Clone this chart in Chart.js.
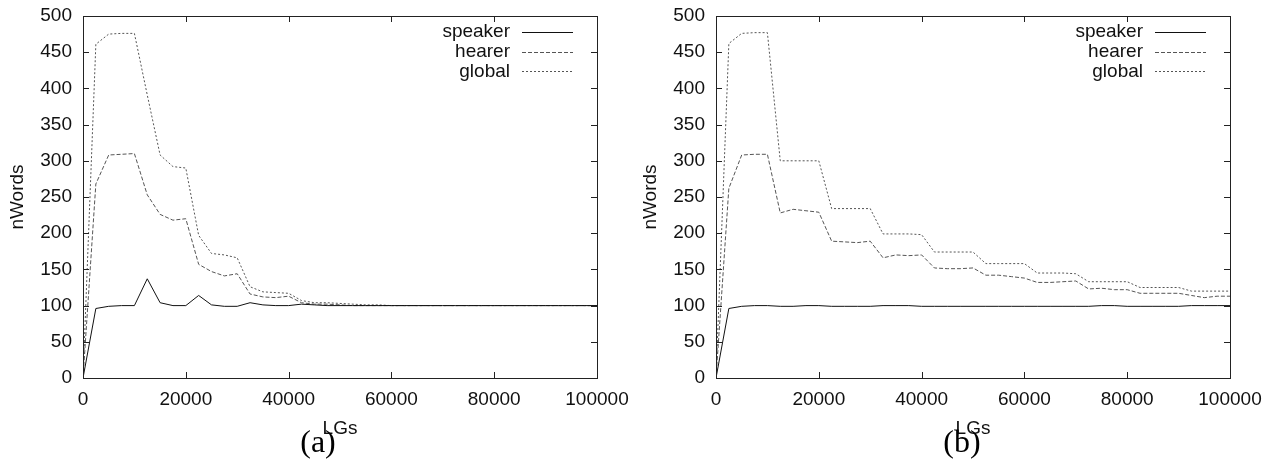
<!DOCTYPE html>
<html>
<head>
<meta charset="utf-8">
<script src="https://cdn.jsdelivr.net/npm/chart.js@4"></script>
<style>
  body { margin: 0; background: #fff; }
  #wrap { position: relative; width: 1274px; height: 472px; }
  canvas { position: absolute; top: 0; }
</style>
</head>
<body>
<div id="wrap">
  <canvas id="chart-a" width="637" height="472" style="left:0"></canvas>
  <canvas id="chart-b" width="637" height="472" style="left:633px"></canvas>
</div>
<script>
// eixo x (LGs), um ponto a cada 2500
const lgs = [0, 2500, 5000, 7500, 10000, 12500, 15000, 17500, 20000, 22500, 25000, 27500, 30000, 32500, 35000, 37500, 40000, 42500, 45000, 47500, 50000, 52500, 55000, 57500, 60000, 62500, 65000, 67500, 70000, 72500, 75000, 77500, 80000, 82500, 85000, 87500, 90000, 92500, 95000, 97500, 100000];

// (a)
const speakerA = [0, 96, 99, 100, 100, 137, 104, 100, 100, 114, 101, 99, 99, 104, 101, 100, 100, 102, 101, 100, 100, 100, 100, 100, 100, 100, 100, 100, 100, 100, 100, 100, 100, 100, 100, 100, 100, 100, 100, 100, 100];
const hearerA = [0, 268, 308, 309, 310, 253, 226, 218, 220, 157, 147, 141, 144, 116, 112, 111, 113, 104, 102, 102, 101, 100, 100, 100, 100, 100, 100, 100, 100, 100, 100, 100, 100, 100, 100, 100, 100, 100, 100, 100, 100];
const globalA = [0, 461, 475, 476, 476, 391, 308, 292, 290, 197, 172, 170, 166, 126, 119, 118, 117, 107, 104, 104, 103, 102, 101, 101, 100, 100, 100, 100, 100, 100, 100, 100, 100, 100, 100, 100, 100, 100, 100, 100, 100];

// (b)
const speakerB = [0, 96, 99, 100, 100, 99, 99, 100, 100, 99, 99, 99, 99, 100, 100, 100, 99, 99, 99, 99, 99, 99, 99, 99, 99, 99, 99, 99, 99, 99, 100, 100, 99, 99, 99, 99, 99, 100, 100, 100, 100];
const hearerB = [0, 262, 308, 309, 309, 228, 233, 231, 229, 189, 188, 187, 189, 166, 170, 169, 170, 152, 151, 151, 152, 142, 142, 140, 138, 132, 132, 133, 134, 123, 124, 122, 122, 117, 117, 117, 117, 114, 111, 113, 113];
const globalB = [0, 462, 476, 477, 477, 300, 300, 300, 300, 234, 234, 234, 234, 199, 199, 199, 198, 174, 174, 174, 174, 158, 158, 158, 158, 145, 145, 145, 144, 133, 133, 133, 133, 125, 125, 125, 125, 120, 120, 120, 120];

const FONT = "'Liberation Sans', Arial, sans-serif";

// caixa estilo gnuplot: borda, ticks pra dentro, legenda e legenda (a)/(b)
const gnuplotFrame = {
  id: "gnuplotFrame",
  afterDraw(chart, args, opts) {
    const { ctx, chartArea: a, scales } = chart;
    ctx.save();
    ctx.strokeStyle = "#222";
    ctx.lineWidth = 1;
    ctx.strokeRect(a.left + 0.5, a.top + 0.5, a.right - a.left, a.bottom - a.top);

    ctx.beginPath();
    scales.x.ticks.forEach((t) => {
      const px = Math.round(scales.x.getPixelForValue(t.value)) + 0.5;
      ctx.moveTo(px, a.bottom); ctx.lineTo(px, a.bottom - 6);
      ctx.moveTo(px, a.top); ctx.lineTo(px, a.top + 6);
    });
    scales.y.ticks.forEach((t) => {
      const py = Math.round(scales.y.getPixelForValue(t.value)) + 0.5;
      ctx.moveTo(a.left, py); ctx.lineTo(a.left + 6, py);
      ctx.moveTo(a.right, py); ctx.lineTo(a.right - 6, py);
    });
    ctx.stroke();

    // legenda
    ctx.font = `19px ${FONT}`;
    ctx.textAlign = "right";
    ctx.textBaseline = "middle";
    chart.data.datasets.forEach((ds, i) => {
      const y = a.top + 16 + i * 19.7;
      ctx.fillStyle = "#111";
      ctx.fillText(ds.label, a.right - 87, y);
      ctx.strokeStyle = ds.borderColor;
      ctx.setLineDash(ds.borderDash || []);
      ctx.beginPath();
      ctx.moveTo(a.right - 75, Math.round(y) + 0.5);
      ctx.lineTo(a.right - 24, Math.round(y) + 0.5);
      ctx.stroke();
    });
    ctx.setLineDash([]);

    // (a) / (b)
    ctx.font = `32px 'Liberation Serif', 'Times New Roman', serif`;
    ctx.textAlign = "center";
    ctx.textBaseline = "alphabetic";
    ctx.fillStyle = "#000";
    ctx.fillText(opts.caption, opts.captionX, 452);
    ctx.restore();
  },
};

const makeChart = (id, speaker, hearer, global, caption, captionX) => {
  const ctx = document.getElementById(id).getContext("2d");
  const pts = (vals) => lgs.map((x, i) => ({ x, y: vals[i] }));

  return new Chart(ctx, {
    type: "line",
    data: {
      datasets: [
        {
          label: "speaker",
          data: pts(speaker),
          borderColor: "#111",
          borderWidth: 1,
          pointRadius: 0,
          tension: 0,
        },
        {
          label: "hearer",
          data: pts(hearer),
          borderColor: "#555",
          borderWidth: 1,
          borderDash: [4, 2],
          pointRadius: 0,
          tension: 0,
        },
        {
          label: "global",
          data: pts(global),
          borderColor: "#555",
          borderWidth: 1,
          borderDash: [2, 2],
          pointRadius: 0,
          tension: 0,
        },
      ],
    },
    options: {
      responsive: false,
      animation: false,
      layout: {
        padding: { top: 16, right: 40, bottom: 35, left: 0 },
      },
      plugins: {
        legend: { display: false },
        tooltip: { enabled: false },
        gnuplotFrame: { caption, captionX },
      },
      scales: {
        x: {
          type: "linear",
          min: 0,
          max: 100000,
          afterFit: (s) => {
            s.height = 59;
            s.paddingLeft = 0;
            s.paddingRight = 0;
          },
          grid: { display: false, drawTicks: false },
          border: { display: false },
          ticks: {
            stepSize: 20000,
            padding: 10,
            maxRotation: 0,
            color: "#111",
            font: { size: 19, family: FONT },
            callback: (v) => String(v),
          },
          title: {
            display: true,
            text: "LGs",
            color: "#111",
            padding: { top: 0, bottom: -3 },
            font: { size: 19, family: FONT },
          },
        },
        y: {
          min: 0,
          max: 500,
          afterFit: (s) => {
            s.width = 83;
            s.paddingTop = 0;
            s.paddingBottom = 0;
          },
          grid: { display: false, drawTicks: false },
          border: { display: false },
          ticks: {
            stepSize: 50,
            padding: 11,
            color: "#111",
            font: { size: 19, family: FONT },
          },
          title: {
            display: true,
            text: "nWords",
            color: "#111",
            padding: { top: 6, bottom: 0 },
            font: { size: 19, family: FONT },
          },
        },
      },
    },
    plugins: [gnuplotFrame],
  });
};

makeChart("chart-a", speakerA, hearerA, globalA, "(a)", 318);
makeChart("chart-b", speakerB, hearerB, globalB, "(b)", 329);
</script>
</body>
</html>
